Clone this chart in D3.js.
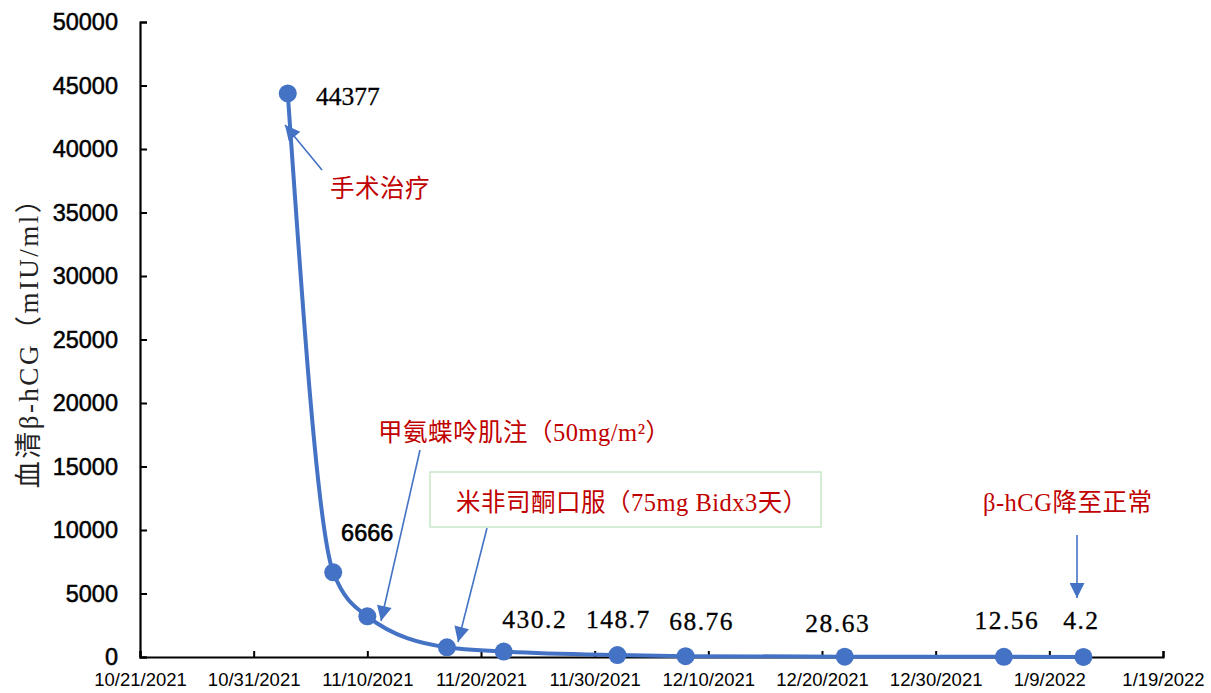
<!DOCTYPE html>
<html>
<head>
<meta charset="utf-8">
<script src="https://cdn.jsdelivr.net/npm/d3@7"></script>
<style>
  body { margin: 0; background: #fff; }
  svg { display: block; }
</style>
</head>
<body>
<div id="chart"></div>
<script>
// Data
const dates = ["11/3/2021", "11/7/2021", "11/10/2021", "11/17/2021", "11/22/2021",
               "12/2/2021", "12/8/2021", "12/22/2021", "1/5/2022", "1/12/2022"];
const values = [44377, 6666, 3200, 760, 430.2, 148.7, 68.76, 28.63, 12.56, 4.2];
const labels = ["44377", "6666", null, null, "430.2", "148.7", "68.76", "28.63", "12.56", "4.2"];
const xTickLabels = ["10/21/2021", "10/31/2021", "11/10/2021", "11/20/2021", "11/30/2021",
                     "12/10/2021", "12/20/2021", "12/30/2021", "1/9/2022", "1/19/2022"];
const yTicks = [0, 5000, 10000, 15000, 20000, 25000, 30000, 35000, 40000, 45000, 50000];

// label placement relative to each point [dx, dy] (text centre)
const labelOffsets = [[60, 3], [34, -40], null, null, [31, -32], [1, -36], [16, -35], [-7, -34], [3, -37], [-2, -37]];

const width = 1211;
const height = 693;
const parse = d3.timeParse("%m/%d/%Y");
const blue = "#4472c4";
const red = "#c00000";

const svg = d3.select("#chart")
    .append("svg")
    .attr("width", width)
    .attr("height", height);

const x = d3.scaleTime()
    .domain([parse(xTickLabels[0]), parse(xTickLabels[xTickLabels.length - 1])])
    .range([140, 1163]);

const y = d3.scaleLinear()
    .domain([0, 50000])
    .range([657, 22]);

const data = dates.map((d, i) => ({ date: parse(d), value: values[i], label: labels[i], off: labelOffsets[i] }));

// Axes
const xAxis = svg.append("g")
    .attr("transform", `translate(0,${y(0)})`)
    .call(d3.axisBottom(x)
        .tickValues(xTickLabels.map(parse))
        .tickFormat(d3.timeFormat("%-m/%-d/%Y"))
        .tickSizeInner(-6)
        .tickSizeOuter(-6)
        .tickPadding(16));
xAxis.select(".domain").attr("stroke", "#000").attr("stroke-width", 2.2);
xAxis.selectAll(".tick line").attr("stroke", "#000").attr("stroke-width", 2);
xAxis.selectAll(".tick text")
    .attr("font-family", "'Liberation Sans', Arial, sans-serif")
    .attr("font-size", 18.5)
    .attr("fill", "#000");

const yAxis = svg.append("g")
    .attr("transform", `translate(${x.range()[0]},0)`)
    .call(d3.axisLeft(y)
        .tickValues(yTicks)
        .tickFormat(d3.format("d"))
        .tickSizeInner(-7)
        .tickSizeOuter(-7)
        .tickPadding(22));
yAxis.select(".domain").attr("stroke", "#000").attr("stroke-width", 2.2);
yAxis.selectAll(".tick line").attr("stroke", "#000").attr("stroke-width", 2);
yAxis.selectAll(".tick text")
    .attr("font-family", "'Liberation Sans', Arial, sans-serif")
    .attr("font-size", 23.5)
    .attr("fill", "#000")
    .attr("stroke", "#000")
    .attr("stroke-width", 0.5);

// Y axis title
svg.append("text")
    .attr("transform", "translate(38,336) rotate(-90)")
    .attr("text-anchor", "middle")
    .attr("font-family", "'Liberation Serif', 'Noto Sans CJK SC', serif")
    .attr("font-size", 27)
    .attr("letter-spacing", 2.5)
    .attr("fill", "#222")
    .text("血清β-hCG（mIU/ml）");

// Line
const line = d3.line()
    .x(d => x(d.date))
    .y(d => y(d.value))
    .curve(d3.curveMonotoneX);

svg.append("path")
    .datum(data)
    .attr("fill", "none")
    .attr("stroke", blue)
    .attr("stroke-width", 4)
    .attr("d", line);

svg.append("g")
    .selectAll("circle")
    .data(data)
    .join("circle")
    .attr("cx", d => x(d.date))
    .attr("cy", d => y(d.value))
    .attr("r", 9)
    .attr("fill", blue);

// Value labels
svg.append("g")
    .selectAll("text")
    .data(data.filter(d => d.label))
    .join("text")
    .attr("x", d => x(d.date) + d.off[0])
    .attr("y", d => y(d.value) + d.off[1])
    .attr("dy", "0.35em")
    .attr("text-anchor", "middle")
    .attr("font-family", d => d.label === "6666" ? "'Liberation Sans', Arial, sans-serif" : "'Liberation Serif', 'Times New Roman', serif")
    .attr("font-size", d => d.label === "6666" ? 23.5 : 25.5)
    .attr("letter-spacing", d => d.label === "6666" || d.label === "44377" ? 0 : 1.5)
    .attr("fill", "#000")
    .attr("stroke", "#000")
    .attr("stroke-width", d => d.label === "6666" ? 0.6 : 0.3)
    .text(d => d.label);

// Annotations
const defs = svg.append("defs");
defs.append("marker")
    .attr("id", "arrowBig")
    .attr("viewBox", "0 0 10 10")
    .attr("refX", 10)
    .attr("refY", 5)
    .attr("markerWidth", 17)
    .attr("markerHeight", 15)
    .attr("markerUnits", "userSpaceOnUse")
    .attr("orient", "auto")
    .append("path")
    .attr("d", "M0,0L10,5L0,10Z")
    .attr("fill", blue);

const arrows = [
    { x1: 322, y1: 170, x2: 285, y2: 125 },
    { x1: 420, y1: 450, x2: 381, y2: 621 },
    { x1: 487, y1: 528, x2: 458, y2: 642 },
    { x1: 1077, y1: 535, x2: 1077, y2: 598 }
];
svg.append("g")
    .selectAll("line")
    .data(arrows)
    .join("line")
    .attr("x1", d => d.x1).attr("y1", d => d.y1)
    .attr("x2", d => d.x2).attr("y2", d => d.y2)
    .attr("stroke", blue)
    .attr("stroke-width", 1.6)
    .attr("marker-end", "url(#arrowBig)");

svg.append("rect")
    .attr("x", 430).attr("y", 472)
    .attr("width", 391).attr("height", 55)
    .attr("fill", "#fff")
    .attr("stroke", "#c6e7c6")
    .attr("stroke-width", 1.5);

const notes = [
    { text: "手术治疗", x: 330, y: 197 },
    { text: "甲氨蝶呤肌注（50mg/m²）", x: 378, y: 441 },
    { text: "米非司酮口服（75mg Bidx3天）", x: 456, y: 511 },
    { text: "β-hCG降至正常", x: 983, y: 511 }
];
svg.append("g")
    .selectAll("text")
    .data(notes)
    .join("text")
    .attr("x", d => d.x)
    .attr("y", d => d.y)
    .attr("font-family", "'Liberation Serif', 'Noto Sans CJK SC', serif")
    .attr("font-size", 24.5)
    .attr("letter-spacing", 0.5)
    .attr("fill", red)
    .text(d => d.text);
</script>
</body>
</html>
